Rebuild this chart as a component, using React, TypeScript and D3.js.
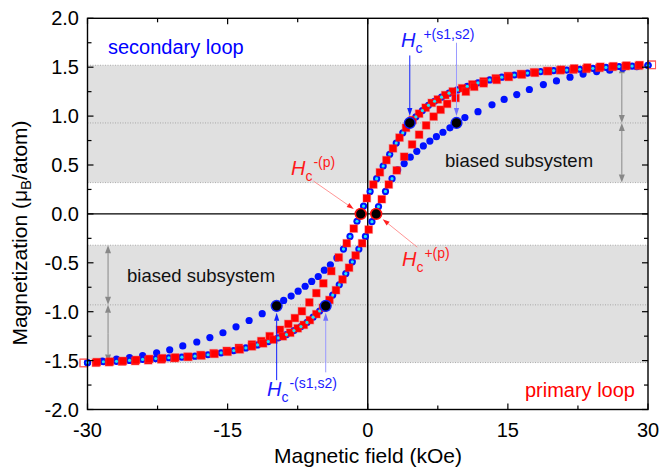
import * as React from "react"
import * as d3 from "d3"

// ---- data (H in kOe, M in muB/atom) ----
const xTicks = [-30, -15, 0, 15, 30]
const xMinor = [-22.5, -7.5, 7.5, 22.5]
const yTicks = [-2, -1.5, -1, -0.5, 0, 0.5, 1, 1.5, 2]
const yMinor = [-1.75, -1.25, -0.75, -0.25, 0.25, 0.75, 1.25, 1.75]

// biased subsystem bands: [low, high, middle]
const bands = [
    [0.32, 1.52, 0.93],
    [-1.52, -0.32, -0.93],
]

// primary loop, red squares
const primaryDown = [
    [30.4, 1.523], [29.0, 1.515], [27.6, 1.51], [26.2, 1.503], [24.8, 1.493], [23.4, 1.483], [22.0, 1.475],
    [20.6, 1.468], [19.2, 1.461], [17.8, 1.448], [16.4, 1.431], [15.0, 1.41], [13.7, 1.386], [12.4, 1.355],
    [11.2, 1.324], [10.1, 1.285], [9.1, 1.252], [8.3, 1.215], [7.5, 1.17], [6.85, 1.135], [6.2, 1.086],
    [5.5, 1.025], [4.8, 0.96], [4.1, 0.88], [3.4, 0.78], [2.7, 0.67], [2.0, 0.55], [1.3, 0.425], [0.6, 0.3],
    [-0.1, 0.16], [-0.8, 0.0], [-1.5, -0.15], [-2.25, -0.3], [-3.1, -0.445], [-3.9, -0.585], [-4.75, -0.71],
    [-5.5, -0.81], [-6.25, -0.905], [-7.05, -0.995], [-7.8, -1.065], [-8.5, -1.125], [-9.4, -1.185],
    [-10.5, -1.25], [-11.4, -1.3], [-12.4, -1.335], [-13.8, -1.37], [-15.1, -1.4], [-16.5, -1.425],
    [-17.9, -1.443], [-19.3, -1.46], [-20.7, -1.475], [-22.1, -1.488], [-23.5, -1.497], [-24.9, -1.505],
    [-26.3, -1.51], [-27.7, -1.517], [-29.1, -1.522], [-30.4, -1.525],
]
const primaryUp = [
    [-30.4, -1.523], [-29.0, -1.515], [-27.6, -1.51], [-26.2, -1.503], [-24.8, -1.493], [-23.4, -1.483],
    [-22.0, -1.475], [-20.6, -1.468], [-19.2, -1.461], [-17.8, -1.448], [-16.4, -1.431], [-15.0, -1.41],
    [-13.7, -1.386], [-12.4, -1.355], [-11.2, -1.324], [-10.1, -1.285], [-9.1, -1.252], [-8.3, -1.215],
    [-7.5, -1.17], [-6.85, -1.135], [-6.2, -1.086], [-5.5, -1.025], [-4.8, -0.96], [-4.1, -0.88], [-3.4, -0.78],
    [-2.7, -0.67], [-2.0, -0.55], [-1.3, -0.425], [-0.6, -0.3], [0.1, -0.16], [0.8, 0.0], [1.5, 0.15],
    [2.25, 0.3], [3.1, 0.445], [3.9, 0.585], [4.75, 0.71], [5.5, 0.81], [6.25, 0.905], [7.05, 0.995],
    [7.8, 1.065], [8.5, 1.125], [9.4, 1.185], [10.5, 1.25], [11.4, 1.3], [12.4, 1.335], [13.8, 1.37],
    [15.1, 1.4], [16.5, 1.425], [17.9, 1.443], [19.3, 1.46], [20.7, 1.475], [22.1, 1.488], [23.5, 1.497],
    [24.9, 1.505], [26.3, 1.51], [27.7, 1.517], [29.1, 1.522], [30.4, 1.525],
]

// secondary loop, blue circles: part that runs with the primary loop (also cyan dots) + wide part
const commonDown = [
    [30.0, 1.52], [28.3, 1.512], [26.9, 1.507], [25.5, 1.498], [24.1, 1.488], [22.7, 1.479], [21.3, 1.471],
    [19.9, 1.465], [18.5, 1.455], [17.1, 1.44], [15.7, 1.42], [14.35, 1.398], [13.05, 1.37], [11.8, 1.34],
    [10.65, 1.305], [9.6, 1.268], [8.7, 1.234], [7.9, 1.193], [7.15, 1.152], [6.5, 1.11], [5.85, 1.056],
    [5.15, 0.993], [4.45, 0.92], [3.75, 0.83], [3.05, 0.725], [2.35, 0.61], [1.65, 0.49], [0.95, 0.36],
    [0.25, 0.23], [-0.45, 0.08], [-1.15, -0.075], [-1.9, -0.23], [-2.6, -0.36],
]
const wideDown = [
    [-3.3, -0.45], [-4.0, -0.52], [-4.65, -0.575], [-5.3, -0.64], [-6.0, -0.69], [-6.7, -0.74], [-7.45, -0.79],
    [-8.2, -0.84], [-9.0, -0.885], [-9.8, -0.935], [-11.3, -1.02], [-12.7, -1.09], [-14.1, -1.155],
    [-15.5, -1.215], [-16.9, -1.265], [-18.3, -1.31], [-19.8, -1.35], [-21.2, -1.39], [-22.6, -1.42],
    [-24.1, -1.45], [-25.5, -1.47], [-26.9, -1.485], [-28.4, -1.505], [-30.0, -1.522],
]
const commonUp = [
    [-30.0, -1.52], [-28.3, -1.512], [-26.9, -1.507], [-25.5, -1.498], [-24.1, -1.488], [-22.7, -1.479],
    [-21.3, -1.471], [-19.9, -1.465], [-18.5, -1.455], [-17.1, -1.44], [-15.7, -1.42], [-14.35, -1.398],
    [-13.05, -1.37], [-11.8, -1.34], [-10.65, -1.305], [-9.6, -1.268], [-8.7, -1.234], [-7.9, -1.193],
    [-7.15, -1.152], [-6.5, -1.11], [-5.85, -1.056], [-5.15, -0.993], [-4.45, -0.92], [-3.75, -0.83],
    [-3.05, -0.725], [-2.35, -0.61], [-1.65, -0.49], [-0.95, -0.36], [-0.25, -0.23], [0.45, -0.08],
    [1.15, 0.075], [1.9, 0.23], [2.6, 0.36],
]
const wideUp = [
    [3.2, 0.45], [3.9, 0.515], [4.55, 0.58], [5.25, 0.64], [5.95, 0.695], [6.65, 0.745], [7.35, 0.79],
    [8.05, 0.835], [8.8, 0.88], [9.55, 0.93], [10.4, 0.985], [11.8, 1.045], [13.3, 1.115], [14.6, 1.17],
    [15.95, 1.22], [17.3, 1.272], [18.8, 1.322], [20.2, 1.36], [21.65, 1.398], [23.05, 1.43], [24.5, 1.455],
    [25.9, 1.47], [27.3, 1.49], [28.8, 1.505], [30.0, 1.52],
]

// coercive fields
const coercivePrimary = [[-0.75, 0], [0.9, 0]]
const coerciveSecondary = [[4.5, 0.93], [9.5, 0.93], [-9.75, -0.94], [-4.5, -0.94]]

const FONT = "'Liberation Sans', Arial, Helvetica, sans-serif"

function head(x1, y1, x2, y2, len = 8, half = 2.6) {
    const a = Math.atan2(y2 - y1, x2 - x1)
    const bx = x2 - len * Math.cos(a)
    const by = y2 - len * Math.sin(a)
    const px = -Math.sin(a) * half
    const py = Math.cos(a) * half
    return { d: `M${x2},${y2}L${bx + px},${by + py}L${bx - px},${by - py}Z`, bx, by }
}

function Arrow({ x1, y1, x2, y2, line, fill, width = 1, len = 8, half = 2.6 }) {
    const h = head(x1, y1, x2, y2, len, half)
    return (
        <g>
            <line x1={x1} y1={y1} x2={h.bx} y2={h.by} stroke={line} strokeWidth={width} />
            <path d={h.d} fill={fill} />
        </g>
    )
}

function DoubleArrow({ x, y1, y2 }) {
    const mid = (y1 + y2) / 2
    return (
        <g>
            <Arrow x1={x} y1={mid} x2={x} y2={y1} line="#888" fill="#888" len={8} half={3} />
            <Arrow x1={x} y1={mid} x2={x} y2={y2} line="#888" fill="#888" len={8} half={3} />
        </g>
    )
}

function HcLabel({ x, y, sup, color, size = 20 }) {
    return (
        <g fill={color} fontFamily={FONT}>
            <text x={x} y={y} fontSize={size} fontStyle="italic">H</text>
            <text x={x + size * 0.72} y={y + 6} fontSize={14}>c</text>
            <text x={x + size * 0.72 + 8} y={y - 8} fontSize={14}>{sup}</text>
        </g>
    )
}

export default function App() {
    const width = 659
    const height = 470
    const x = d3.scaleLinear().domain([-30, 30]).range([87.5, 648])
    const y = d3.scaleLinear().domain([-2, 2]).range([409.5, 18.3])
    const [x0, x1] = x.range()
    const [y0, y1] = y.range()

    const squares = (pts, key) =>
        pts.map((p, i) => {
            const out = Math.abs(p[0]) > 30
            return (
                <rect key={key + i} x={x(p[0]) - 3.8} y={y(p[1]) - 3.8} width={7.6} height={7.6}
                    fill={out ? "none" : "#ff0000"} stroke={out ? "#ff5a5a" : "rgba(255,60,60,0.35)"}
                    strokeWidth={out ? 1 : 1.2} />
            )
        })
    const circles = (pts, key, r, fill) =>
        pts.map((p, i) => <circle key={key + i} cx={x(p[0])} cy={y(p[1])} r={r} fill={fill} />)

    return (
        <svg width={width} height={height} style={{ position: "absolute", left: 0, top: 0, background: "#fff" }}
            fontFamily={FONT}>
            {/* bands */}
            {bands.map((b, i) => (
                <g key={"b" + i}>
                    <rect x={x0} y={y(b[1])} width={x1 - x0} height={y(b[0]) - y(b[1])} fill="#e0e0e0" />
                    {b.map((v, j) => (
                        <line key={j} x1={x0} x2={x1} y1={y(v)} y2={y(v)} stroke="#9a9a9a" strokeWidth={0.8}
                            strokeDasharray="1,1.5" />
                    ))}
                </g>
            ))}

            {/* zero lines */}
            <line x1={x0} x2={x1} y1={y(0)} y2={y(0)} stroke="#000" strokeWidth={1.4} />
            <line x1={x(0)} x2={x(0)} y1={y0} y2={y1} stroke="#000" strokeWidth={1.4} />

            {/* gray double arrows */}
            <DoubleArrow x={x(27.2)} y1={y(1.52)} y2={y(0.93)} />
            <DoubleArrow x={x(27.2)} y1={y(0.93)} y2={y(0.32)} />
            <DoubleArrow x={x(-27.8)} y1={y(-0.32)} y2={y(-0.93)} />
            <DoubleArrow x={x(-27.8)} y1={y(-0.93)} y2={y(-1.52)} />

            {/* data */}
            {circles(commonDown, "bd", 3.6, "#0010ff")}
            {circles(wideDown, "bw", 3.6, "#0010ff")}
            {circles(commonUp, "bu", 3.6, "#0010ff")}
            {circles(wideUp, "bv", 3.6, "#0010ff")}
            {squares(primaryDown, "rd")}
            {squares(primaryUp, "ru")}
            {circles(commonDown, "cd", 1.6, "#22e6f2")}
            {circles(commonUp, "cu", 1.6, "#22e6f2")}

            {/* coercive field markers */}
            {coercivePrimary.map((p, i) => (
                <circle key={"cp" + i} cx={x(p[0])} cy={y(p[1])} r={5.4} fill="#000" stroke="#ff1010" strokeWidth={1.6} />
            ))}
            {coerciveSecondary.map((p, i) => (
                <circle key={"cs" + i} cx={x(p[0])} cy={y(p[1])} r={5.4} fill="#000" stroke="#1020ff" strokeWidth={1.4} />
            ))}

            {/* annotation arrows */}
            <Arrow x1={x(4.5)} y1={y(1.62)} x2={x(4.5)} y2={y(1.0)} line="#1020ff" fill="#1020ff" />
            <Arrow x1={x(9.5)} y1={y(1.75)} x2={x(9.5)} y2={y(1.0)} line="#9a9aff" fill="#7070ff" />
            <Arrow x1={x(-9.75)} y1={y(-1.7)} x2={x(-9.75)} y2={y(-1.01)} line="#1020ff" fill="#1020ff" />
            <Arrow x1={x(-4.5)} y1={y(-1.62)} x2={x(-4.5)} y2={y(-1.01)} line="#9a9aff" fill="#7070ff" />
            <Arrow x1={x(-5.8)} y1={y(0.335)} x2={x(-1.5)} y2={y(0.05)} line="#ff7a7a" fill="#ff2020" width={0.8} len={7} half={2.4} />
            <Arrow x1={x(5.3)} y1={y(-0.34)} x2={x(1.6)} y2={y(-0.055)} line="#ff7a7a" fill="#ff2020" width={0.8} len={7} half={2.4} />

            {/* labels */}
            <text x={108} y={54} fontSize={20} fill="#0000ff">secondary loop</text>
            <text x={635} y={397} fontSize={20} fill="#ff0000" textAnchor="end">primary loop</text>
            <text x={445} y={167} fontSize={18.5} fill="#111">biased subsystem</text>
            <text x={127} y={282} fontSize={18.5} fill="#111">biased subsystem</text>
            <HcLabel x={401} y={47} sup="+(s1,s2)" color="#1a1aff" />
            <HcLabel x={267} y={396} sup="-(s1,s2)" color="#1a1aff" />
            <HcLabel x={291} y={175} sup="-(p)" color="#ff1a1a" />
            <HcLabel x={402} y={266} sup="+(p)" color="#ff1a1a" />

            {/* axes frame and ticks */}
            <rect x={x0} y={y1} width={x1 - x0} height={y0 - y1} fill="none" stroke="#000" strokeWidth={1.4} />
            {xTicks.map((t) => (
                <g key={"xt" + t}>
                    <line x1={x(t)} x2={x(t)} y1={y0} y2={y0 - 6} stroke="#000" strokeWidth={1.2} />
                    <line x1={x(t)} x2={x(t)} y1={y1} y2={y1 + 6} stroke="#000" strokeWidth={1.2} />
                    <text x={x(t)} y={437} fontSize={20} textAnchor="middle">{String(t)}</text>
                </g>
            ))}
            {xMinor.map((t) => (
                <g key={"xm" + t}>
                    <line x1={x(t)} x2={x(t)} y1={y0} y2={y0 - 4} stroke="#000" strokeWidth={1.2} />
                    <line x1={x(t)} x2={x(t)} y1={y1} y2={y1 + 4} stroke="#000" strokeWidth={1.2} />
                </g>
            ))}
            {yTicks.map((t) => (
                <g key={"yt" + t}>
                    <line x1={x0} x2={x0 + 6} y1={y(t)} y2={y(t)} stroke="#000" strokeWidth={1.2} />
                    <line x1={x1} x2={x1 - 6} y1={y(t)} y2={y(t)} stroke="#000" strokeWidth={1.2} />
                    <text x={79} y={y(t) + 7} fontSize={20} textAnchor="end">{t.toFixed(1)}</text>
                </g>
            ))}
            {yMinor.map((t) => (
                <g key={"ym" + t}>
                    <line x1={x0} x2={x0 + 4} y1={y(t)} y2={y(t)} stroke="#000" strokeWidth={1.2} />
                    <line x1={x1} x2={x1 - 4} y1={y(t)} y2={y(t)} stroke="#000" strokeWidth={1.2} />
                </g>
            ))}

            {/* axis titles */}
            <text x={368} y={463} fontSize={21} textAnchor="middle">Magnetic field (kOe)</text>
            <text transform="translate(27,233) rotate(-90)" fontSize={21} textAnchor="middle">
                Magnetization (μ<tspan fontSize={15} dy={4}>B</tspan><tspan dy={-4}>/atom)</tspan>
            </text>
        </svg>
    )
}
